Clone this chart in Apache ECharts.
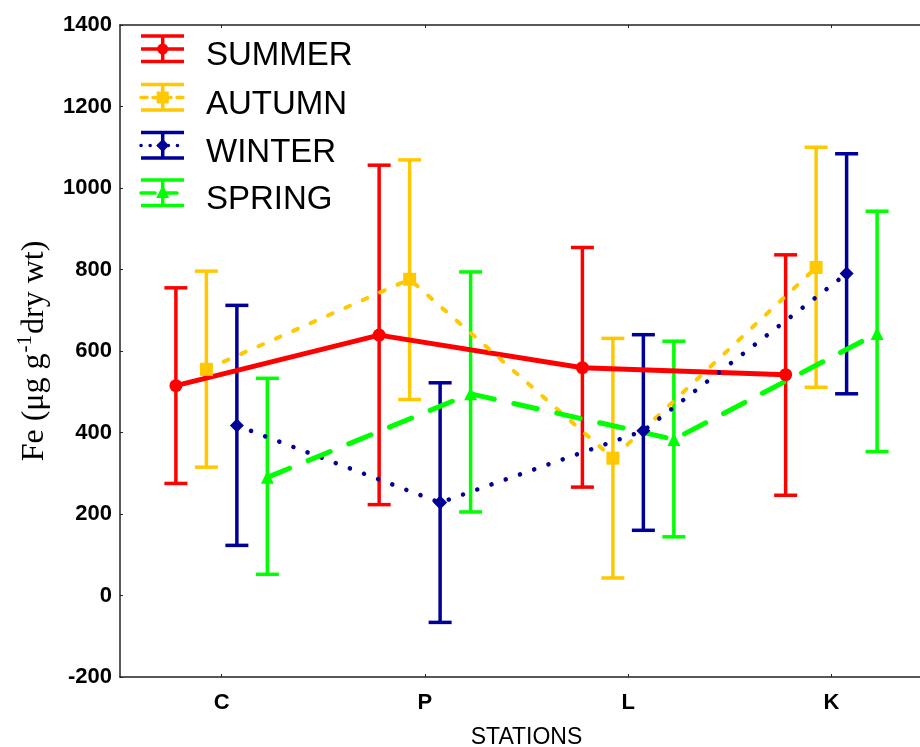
<!DOCTYPE html>
<html>
<head>
<meta charset="utf-8">
<script src="https://cdn.jsdelivr.net/npm/echarts@6/dist/echarts.min.js"></script>
<style>html,body{margin:0;padding:0;background:#fff;}#c{width:920px;height:747px;}</style>
</head>
<body>
<div id="c"></div>
<script>
const stations = ['C', 'P', 'L', 'K'];
const seasons = ['SUMMER', 'AUTUMN', 'WINTER', 'SPRING'];
const yTicks = [-200, 0, 200, 400, 600, 800, 1000, 1200, 1400];

const summerMean = [515, 639, 559, 542];
const summerLow  = [275, 223, 266, 246];
const summerHigh = [755, 1056, 854, 836];

const autumnMean = [555, 776, 337, 805];
const autumnLow  = [315, 481, 43, 511];
const autumnHigh = [796, 1069, 631, 1100];

const winterMean = [417, 228, 404, 790];
const winterLow  = [123, -66, 160, 495];
const winterHigh = [712, 522, 640, 1084];

const springMean = [290, 495, 383, 643];
const springLow  = [52, 205, 144, 353];
const springHigh = [533, 794, 624, 943];

const offsets = [-0.225, -0.075, 0.075, 0.225];
const colors = ['#FF0000', '#FFC800', '#000099', '#00FF00'];
const symbols = ['circle', 'rect', 'diamond', 'triangle'];
const symbolSizes = [13, 13, 14, 13];
const lineStyles = [
  {width: 5, type: 'solid'},
  {width: 4, type: [5, 14], cap: 'round'},
  {width: 4.5, type: [0.1, 15], cap: 'round'},
  {width: 5, type: [24, 20], cap: 'round'}
];
const means = [summerMean, autumnMean, winterMean, springMean];
const lows = [summerLow, autumnLow, winterLow, springLow];
const highs = [summerHigh, autumnHigh, winterHigh, springHigh];

const series = [];
seasons.forEach((name, s) => {
  const errData = stations.map((st, i) => [i + 1 + offsets[s], lows[s][i], highs[s][i]]);
  series.push({
    type: 'custom',
    name: name + '_err',
    z: 2,
    data: errData,
    renderItem: function (params, api) {
      const x = api.value(0);
      const pHi = api.coord([x, api.value(2)]);
      const pLo = api.coord([x, api.value(1)]);
      const hw = 11.5;
      const st = {stroke: colors[s], lineWidth: 3.5};
      return {
        type: 'group',
        children: [
          {type: 'line', shape: {x1: pHi[0], y1: pHi[1], x2: pLo[0], y2: pLo[1]}, style: st},
          {type: 'line', shape: {x1: pHi[0] - hw, y1: pHi[1], x2: pHi[0] + hw, y2: pHi[1]}, style: st},
          {type: 'line', shape: {x1: pLo[0] - hw, y1: pLo[1], x2: pLo[0] + hw, y2: pLo[1]}, style: st}
        ]
      };
    }
  });
  series.push({
    type: 'line',
    name: name,
    z: 3,
    data: stations.map((st, i) => [i + 1 + offsets[s], means[s][i]]),
    symbol: symbols[s],
    symbolSize: symbolSizes[s],
    showAllSymbol: true,
    itemStyle: {color: colors[s]},
    lineStyle: Object.assign({color: colors[s]}, lineStyles[s]),
    animation: false
  });
});

// legend drawn as graphic elements
const graphic = [];
const legX1 = 141, legX2 = 184, legXc = 162.7;
const legMid = [49, 97.5, 145.5, 193];
seasons.forEach((name, s) => {
  const m = legMid[s];
  const st = {stroke: colors[s], lineWidth: 3.5};
  graphic.push({type: 'line', shape: {x1: legX1, y1: m - 13, x2: legX2, y2: m - 13}, style: st});
  graphic.push({type: 'line', shape: {x1: legX1, y1: m + 12.5, x2: legX2, y2: m + 12.5}, style: st});
  graphic.push({type: 'line', shape: {x1: legXc, y1: m - 13, x2: legXc, y2: m + 12.5}, style: st});
  const ls = lineStyles[s];
  graphic.push({type: 'line', shape: {x1: legX1, y1: m, x2: legX2, y2: m},
    style: {stroke: colors[s], lineWidth: Math.min(ls.width, 3.5), lineDash: ls.type === 'solid' ? null : (s === 1 ? [6, 6] : (s === 2 ? [0.1, 9] : [14, 8])), lineCap: ls.cap || 'butt'}});
  if (s === 0) graphic.push({type: 'circle', shape: {cx: legXc, cy: m, r: 5.5}, style: {fill: colors[s]}});
  if (s === 1) graphic.push({type: 'rect', shape: {x: legXc - 6, y: m - 6, width: 12, height: 12}, style: {fill: colors[s]}});
  if (s === 2) graphic.push({type: 'polygon', shape: {points: [[legXc, m - 6.5], [legXc + 6.5, m], [legXc, m + 6.5], [legXc - 6.5, m]]}, style: {fill: colors[s]}});
  if (s === 3) graphic.push({type: 'polygon', shape: {points: [[legXc, m - 8], [legXc + 6.5, m + 5], [legXc - 6.5, m + 5]]}, style: {fill: colors[s]}});
  graphic.push({type: 'text', x: 206, y: m + 7, style: {text: name, fontFamily: 'Liberation Sans', fontSize: 33, fill: '#000', verticalAlign: 'middle', textAlign: 'left'}});
});

const chart = echarts.init(document.getElementById('c'), null, {renderer: 'canvas'});
chart.setOption({
  animation: false,
  backgroundColor: '#fff',
  grid: {left: 120, right: -13, top: 25, bottom: 70, containLabel: false, outerBoundsMode: 'none'},
  xAxis: [{
    type: 'value', min: 0.5, max: 4.5, position: 'bottom',
    axisLine: {show: true, onZero: false, lineStyle: {color: '#222', width: 1.5}},
    axisTick: {show: true, inside: true, length: 3, customValues: [1, 2, 3, 4], lineStyle: {color: '#222'}},
    axisLabel: {customValues: [1, 2, 3, 4], formatter: v => stations[Math.round(v) - 1], fontFamily: 'Liberation Sans', fontWeight: 'bold', fontSize: 22, color: '#000', margin: 15},
    splitLine: {show: false},
    name: 'STATIONS', nameLocation: 'middle', nameGap: 49,
    nameTextStyle: {fontFamily: 'Liberation Sans', fontSize: 23, color: '#000'}
  }, {
    type: 'value', min: 0.5, max: 4.5, position: 'top',
    axisLine: {show: true, onZero: false, lineStyle: {color: '#222', width: 1.5}},
    axisTick: {show: true, inside: true, length: 3, customValues: [1, 2, 3, 4], lineStyle: {color: '#222'}},
    axisLabel: {show: false},
    splitLine: {show: false}
  }],
  yAxis: {
    type: 'value', min: -200, max: 1400, interval: 200,
    axisLine: {show: true, onZero: false, lineStyle: {color: '#222', width: 1.5}},
    axisTick: {show: true, inside: true, length: 3, lineStyle: {color: '#222'}},
    axisLabel: {formatter: v => String(v), fontFamily: 'Liberation Sans', fontWeight: 'bold', fontSize: 22, color: '#000', margin: 8},
    splitLine: {show: false},
    name: '{a|Fe (μg g}{s|-1}{a|dry wt)}',
    nameLocation: 'middle', nameGap: 69, nameRotate: 90,
    nameTextStyle: {
      color: '#000',
      rich: {
        a: {fontFamily: 'Liberation Serif', fontSize: 32, color: '#000', lineHeight: 36, verticalAlign: 'bottom'},
        s: {fontFamily: 'Liberation Serif', fontSize: 21, color: '#000', lineHeight: 36, verticalAlign: 'top', padding: [0, 1, 0, 1]}
      }
    }
  },
  graphic: graphic,
  series: series
});
</script>
</body>
</html>
